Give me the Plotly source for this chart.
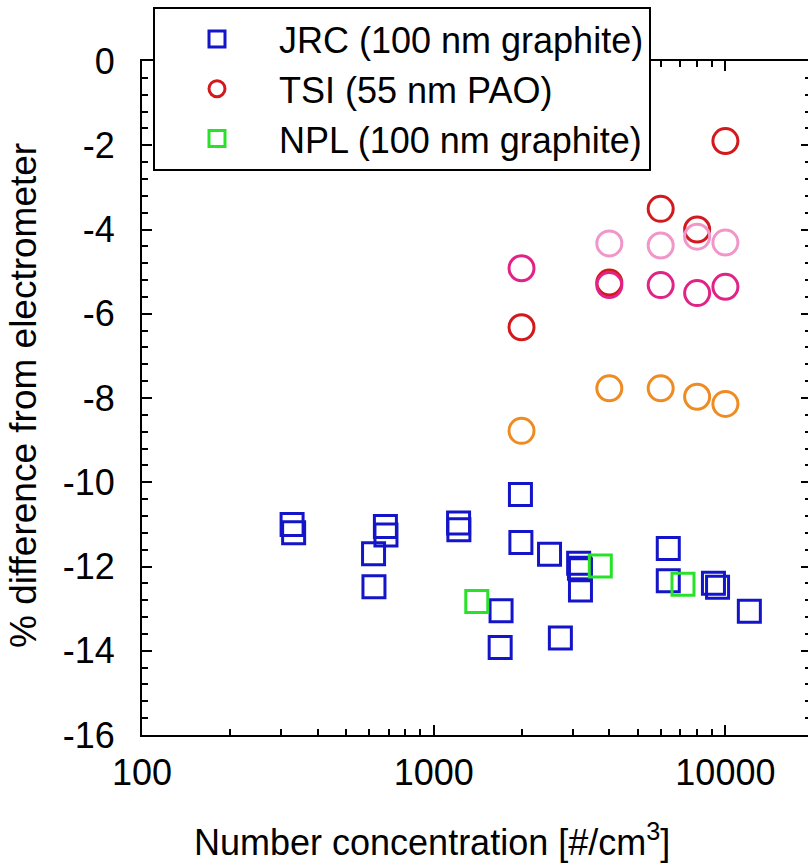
import plotly.graph_objects as go

# ---- data ----
jrc_x = [327, 331, 622, 624, 683, 686, 1217, 1220, 1702, 1690, 1983, 1990,
         2495, 2718, 3140, 3160, 3185, 3185, 6370, 6370, 9100, 9400, 12080]
jrc_y = [-11.0, -11.2, -11.7, -12.48, -11.05, -11.25, -10.97, -11.13, -13.05, -13.92, -10.29, -11.43,
         -11.71, -13.70, -11.92, -12.04, -12.08, -12.56, -11.57, -12.34, -12.40, -12.49, -13.06]

npl_x = [1405, 3725, 7155]
npl_y = [-12.83, -11.99, -12.42]

tsi_red_x = [2000, 4000, 6000, 8000, 10000]
tsi_red_y = [-6.32, -5.26, -3.51, -4.0, -1.90]

tsi_pink_x = [4000, 6000, 8000, 10000]
tsi_pink_y = [-4.33, -4.38, -4.17, -4.31]

tsi_mag_x = [2000, 4000, 6000, 8000, 10000]
tsi_mag_y = [-4.92, -5.32, -5.32, -5.51, -5.36]

tsi_orange_x = [2000, 4000, 6000, 8000, 10000]
tsi_orange_y = [-8.78, -7.77, -7.77, -7.97, -8.14]

x_major = [100, 1000, 10000]
x_labels = ["100", "1000", "10000"]
x_minor = [200, 300, 400, 500, 600, 700, 800, 900,
           2000, 3000, 4000, 5000, 6000, 7000, 8000, 9000]
y_major = [0, -2, -4, -6, -8, -10, -12, -14, -16]
y_labels = ["0", "-2", "-4", "-6", "-8", "-10", "-12", "-14", "-16"]

BLUE = "rgb(20,20,200)"
GREEN = "rgb(40,225,40)"
RED = "rgb(210,25,30)"
MAGENTA = "rgb(225,35,135)"
PINK = "rgb(240,150,200)"
ORANGE = "rgb(238,140,35)"

FONT = "Liberation Sans, Arial, sans-serif"

fig = go.Figure()

def sc(x, y, name, color, symbol, size, show, yaxis="y"):
    return go.Scatter(x=x, y=y, mode="markers", name=name, showlegend=show,
                      marker=dict(symbol=symbol, size=size, color=color,
                                  line=dict(width=3, color=color)),
                      yaxis=yaxis)

fig.add_trace(sc(jrc_x, jrc_y, "JRC (100 nm graphite)", BLUE, "square-open", 22, True))
fig.add_trace(sc(npl_x, npl_y, "NPL (100 nm graphite)", GREEN, "square-open", 22, True))
fig.add_trace(sc(tsi_orange_x, tsi_orange_y, "TSI orange", ORANGE, "circle-open", 25, False))
fig.add_trace(sc(tsi_red_x, tsi_red_y, "TSI (55 nm PAO)", RED, "circle-open", 25, True))
fig.add_trace(sc(tsi_pink_x, tsi_pink_y, "TSI pink", PINK, "circle-open", 25, False))
fig.add_trace(sc(tsi_mag_x, tsi_mag_y, "TSI magenta", MAGENTA, "circle-open", 25, False))
# right-hand tick axis (no data)
fig.add_trace(go.Scatter(x=[], y=[], yaxis="y2", showlegend=False, hoverinfo="skip"))

# legend order JRC, TSI, NPL
fig.data[0].legendrank = 1
fig.data[3].legendrank = 2
fig.data[1].legendrank = 3

W, H = 808, 863
L, T, B, R = 142, 61, 128, 0
pw = W - L - R
ph = H - T - B
xmax = 2 + pw / 291.7

fig.update_layout(
    width=W, height=H,
    margin=dict(l=L, r=R, t=T, b=B, pad=0),
    paper_bgcolor="white", plot_bgcolor="white",
    font=dict(family=FONT, size=36, color="black"),
    showlegend=True,
    legend=dict(x=(153 - L) / pw, y=1 + (T - 7) / ph, xanchor="left", yanchor="top",
                bgcolor="white", bordercolor="black", borderwidth=2,
                font=dict(family=FONT, size=36, color="black"),
                itemwidth=114, tracegroupgap=0, traceorder="normal"),
    xaxis=dict(type="log", range=[2, xmax], tickmode="array", tickvals=x_major, ticktext=x_labels,
               showline=True, linecolor="black", linewidth=2, mirror="ticks",
               ticks="inside", ticklen=10, tickwidth=2, tickcolor="black",
               minor=dict(tickmode="array", tickvals=x_minor, ticks="inside", ticklen=6,
                          tickwidth=1.5, tickcolor="black", showgrid=False),
               showgrid=False, zeroline=False, ticklabelstandoff=5,
               tickfont=dict(family=FONT, size=36)),
    yaxis=dict(range=[-16, 0], tickmode="array", tickvals=y_major, ticktext=y_labels,
               showline=True, linecolor="black", linewidth=2, mirror=False,
               ticks="inside", ticklen=10, tickwidth=2, tickcolor="black",
               minor=dict(dtick=0.4, tick0=0, ticks="inside", ticklen=6, tickwidth=1.5,
                          tickcolor="black", showgrid=False),
               showgrid=False, zeroline=False, ticklabelstandoff=18,
               tickfont=dict(family=FONT, size=36)),
    yaxis2=dict(range=[-16, 0], overlaying="y", side="right", tickmode="array", tickvals=y_major,
                showline=False, ticks="inside", ticklen=7, tickwidth=2, tickcolor="black",
                minor=dict(dtick=0.4, tick0=0, ticks="inside", ticklen=3, tickwidth=1.5,
                           tickcolor="black", showgrid=False),
                showticklabels=False, showgrid=False, zeroline=False),
    annotations=[
        dict(text="Number concentration [#/cm<sup>3</sup>]", xref="paper", yref="paper",
             x=(432 - L) / pw, y=-(840 - 735) / ph, xanchor="center", yanchor="middle",
             showarrow=False, font=dict(family=FONT, size=36, color="black")),
        dict(text="% difference from electrometer", xref="paper", yref="paper",
             x=(23 - L) / pw, y=(735 - 396) / ph, xanchor="center", yanchor="middle",
             textangle=-90, showarrow=False, font=dict(family=FONT, size=37, color="black")),
    ],
)

fig.write_html("out.html")
